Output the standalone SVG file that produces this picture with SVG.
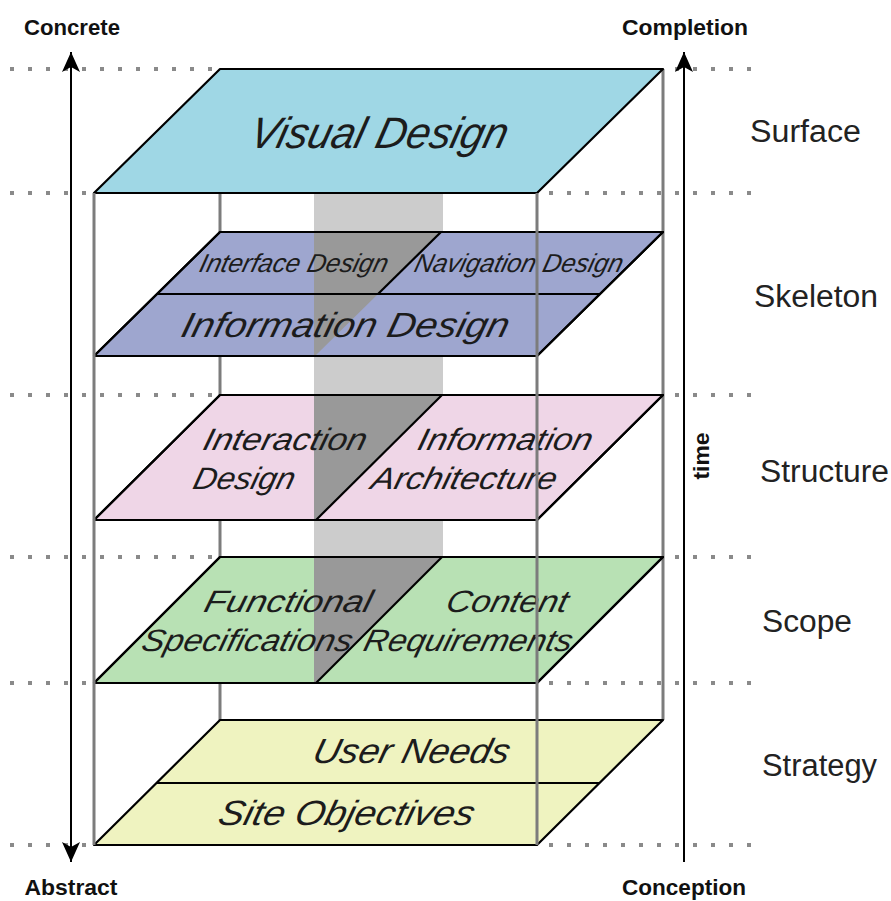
<svg xmlns="http://www.w3.org/2000/svg" width="891" height="901" viewBox="0 0 891 901">
<defs>
<marker id="ah" viewBox="0 0 20 18" refX="20" refY="9" markerWidth="20" markerHeight="18" orient="auto-start-reverse" markerUnits="userSpaceOnUse">
<path d="M0,0 L20,9 L0,18 L5,9 Z" fill="#000"/>
</marker>
<style>
.dot{stroke:#8a8a8a;stroke-width:4;stroke-dasharray:4 14;fill:none}
.frame{stroke:#7c7c7c;stroke-width:3;fill:none}
.plane{stroke:#000;stroke-width:2.2;stroke-linejoin:round}
.edge{stroke:#000;stroke-width:2.2;fill:none}
.dark{fill:#999999}
.pt{font-family:"Liberation Sans",Arial,sans-serif;font-style:italic;fill:#1c1c1c;text-anchor:middle}
.lbl{font-family:"Liberation Sans",Arial,sans-serif;font-size:31px;fill:#222}
.ax{font-family:"Liberation Sans",Arial,sans-serif;font-weight:bold;font-size:22px;fill:#111;text-anchor:middle}
.arr{stroke:#000;stroke-width:2;fill:none}
</style>
</defs>

<g id="guides">
<line class="dot" x1="10" y1="69" x2="220" y2="69"/>
<line class="dot" x1="10" y1="193" x2="94" y2="193"/>
<line class="dot" x1="10" y1="395" x2="220" y2="395"/>
<line class="dot" x1="10" y1="557" x2="220" y2="557"/>
<line class="dot" x1="10" y1="683" x2="94" y2="683"/>
<line class="dot" x1="10" y1="845" x2="94" y2="845"/>
<line class="dot" x1="675" y1="69" x2="752" y2="69"/>
<line class="dot" x1="549" y1="193" x2="752" y2="193"/>
<line class="dot" x1="675" y1="395" x2="752" y2="395"/>
<line class="dot" x1="675" y1="557" x2="752" y2="557"/>
<line class="dot" x1="549" y1="683" x2="752" y2="683"/>
<line class="dot" x1="549" y1="845" x2="752" y2="845"/>
</g>

<g id="back-frame">
<line class="frame" x1="220" y1="193" x2="220" y2="720"/>
<line class="frame" x1="663" y1="69" x2="663" y2="720"/>
<rect x="314" y="193" width="129" height="364" fill="#cccccc"/>
</g>

<g id="surface">
<path class="plane" d="M220,69 L663,69 L537,193 L94,193 Z" fill="#9fd7e5"/>
<text class="pt" font-size="44" transform="translate(376,148) skewX(-14)" x="0" y="0" textLength="257" lengthAdjust="spacingAndGlyphs">Visual Design</text>
</g>

<g id="skeleton">
<path class="plane" d="M220,232 L663,232 L537,356 L94,356 Z" fill="#9ea6cf"/>
<path class="dark" d="M314,232 L441,232 L315,356 L314,356 Z"/>
<line class="edge" x1="158" y1="294" x2="601" y2="294"/>
<line class="edge" x1="441" y1="232" x2="378" y2="294"/>
<path class="plane" d="M220,232 L663,232 L537,356 L94,356 Z" fill="none"/>
<text class="pt" font-size="26" transform="translate(292,272) skewX(-14)" x="0" y="0" textLength="188" lengthAdjust="spacingAndGlyphs">Interface Design</text>
<text class="pt" font-size="26" transform="translate(517,272) skewX(-14)" x="0" y="0" textLength="208" lengthAdjust="spacingAndGlyphs">Navigation Design</text>
<text class="pt" font-size="35" transform="translate(343,337) skewX(-14)" x="0" y="0" textLength="327" lengthAdjust="spacingAndGlyphs">Information Design</text>
</g>

<g id="structure">
<path class="plane" d="M220,395 L663,395 L537,520 L94,520 Z" fill="#efd6e7"/>
<path class="dark" d="M314,395 L442,395 L316,520 L314,520 Z"/>
<line class="edge" x1="442" y1="395" x2="316" y2="520"/>
<path class="plane" d="M220,395 L663,395 L537,520 L94,520 Z" fill="none"/>
<text class="pt" font-size="31" transform="translate(283,450) skewX(-14)" x="0" y="0" textLength="163" lengthAdjust="spacingAndGlyphs">Interaction</text>
<text class="pt" font-size="31" transform="translate(242,489) skewX(-14)" x="0" y="0" textLength="101" lengthAdjust="spacingAndGlyphs">Design</text>
<text class="pt" font-size="31" transform="translate(503,450) skewX(-14)" x="0" y="0" textLength="174" lengthAdjust="spacingAndGlyphs">Information</text>
<text class="pt" font-size="31" transform="translate(462,489) skewX(-14)" x="0" y="0" textLength="185" lengthAdjust="spacingAndGlyphs">Architecture</text>
</g>

<g id="scope">
<path class="plane" d="M220,557 L663,557 L537,683 L94,683 Z" fill="#b8e1b4"/>
<path class="dark" d="M314,557 L442,557 L316,683 L314,683 Z"/>
<line class="edge" x1="442" y1="557" x2="316" y2="683"/>
<path class="plane" d="M220,557 L663,557 L537,683 L94,683 Z" fill="none"/>
<text class="pt" font-size="31" transform="translate(286,612) skewX(-14)" x="0" y="0" textLength="167" lengthAdjust="spacingAndGlyphs">Functional</text>
<text class="pt" font-size="31" transform="translate(245,651) skewX(-14)" x="0" y="0" textLength="210" lengthAdjust="spacingAndGlyphs">Specifications</text>
<text class="pt" font-size="31" transform="translate(505,612) skewX(-14)" x="0" y="0" textLength="121" lengthAdjust="spacingAndGlyphs">Content</text>
<text class="pt" font-size="31" transform="translate(466,651) skewX(-14)" x="0" y="0" textLength="208" lengthAdjust="spacingAndGlyphs">Requirements</text>
</g>

<g id="strategy">
<path class="plane" d="M220,720 L663,720 L537,845 L94,845 Z" fill="#eff3c0"/>
<line class="edge" x1="157" y1="783" x2="600" y2="783"/>
<text class="pt" font-size="35" transform="translate(409,763) skewX(-14)" x="0" y="0" textLength="196" lengthAdjust="spacingAndGlyphs">User Needs</text>
<text class="pt" font-size="35" transform="translate(344,825) skewX(-14)" x="0" y="0" textLength="255" lengthAdjust="spacingAndGlyphs">Site Objectives</text>
</g>

<g id="front-frame">
<line class="frame" x1="94" y1="193" x2="94" y2="845"/>
<line class="frame" x1="537" y1="193" x2="537" y2="845"/>
</g>

<g id="connectors">
<line class="arr" x1="71" y1="862" x2="71" y2="52" marker-start="url(#ah)" marker-end="url(#ah)"/>
<line class="arr" x1="684" y1="862" x2="684" y2="52" marker-end="url(#ah)"/>
</g>

<g id="axis-labels">
<text class="ax" x="72" y="35" textLength="96" lengthAdjust="spacingAndGlyphs">Concrete</text>
<text class="ax" x="685" y="35" textLength="126" lengthAdjust="spacingAndGlyphs">Completion</text>
<text class="ax" x="71" y="895" textLength="93" lengthAdjust="spacingAndGlyphs">Abstract</text>
<text class="ax" x="684" y="895" textLength="124" lengthAdjust="spacingAndGlyphs">Conception</text>
<text class="ax" font-size="18" transform="translate(709,456) rotate(-90)" x="0" y="0" textLength="47" lengthAdjust="spacingAndGlyphs">time</text>
</g>

<g id="layer-labels">
<text class="lbl" x="750" y="142" textLength="111" lengthAdjust="spacingAndGlyphs">Surface</text>
<text class="lbl" x="754" y="307" textLength="124" lengthAdjust="spacingAndGlyphs">Skeleton</text>
<text class="lbl" x="760" y="482" textLength="129" lengthAdjust="spacingAndGlyphs">Structure</text>
<text class="lbl" x="762" y="632" textLength="90" lengthAdjust="spacingAndGlyphs">Scope</text>
<text class="lbl" x="762" y="776" textLength="115" lengthAdjust="spacingAndGlyphs">Strategy</text>
</g>
</svg>
